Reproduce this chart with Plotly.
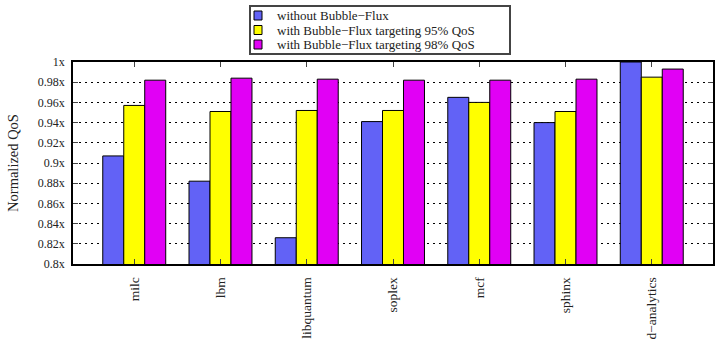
import plotly.graph_objects as go

categories = ["milc", "lbm", "libquantum", "soplex", "mcf", "sphinx", "d−analytics"]
without_bf = [0.907, 0.882, 0.826, 0.941, 0.965, 0.940, 1.0]
bf_95 = [0.957, 0.951, 0.952, 0.952, 0.960, 0.951, 0.985]
bf_98 = [0.982, 0.984, 0.983, 0.982, 0.982, 0.983, 0.993]
series_names = ["without Bubble−Flux", "with Bubble−Flux targeting 95% QoS", "with Bubble−Flux targeting 98% QoS"]
tick_vals = [0.8, 0.82, 0.84, 0.86, 0.88, 0.9, 0.92, 0.94, 0.96, 0.98, 1.0]
tick_text = ["0.8x", "0.82x", "0.84x", "0.86x", "0.88x", "0.9x", "0.92x", "0.94x", "0.96x", "0.98x", "1x"]

colors = ["#6262F6", "#FFFF00", "#E100F5"]
font = "Liberation Serif, Times New Roman, serif"
txt = "#222"

# plot area in pixels (for placing the hand-made legend box)
L, R, T, B = 73, 713, 62, 264
W, H = 720, 344


def px(x):
    return (x - L) / (R - L)


def py(y):
    return (B - y) / (B - T)


fig = go.Figure()
for name, vals, c in zip(series_names, [without_bf, bf_95, bf_98], colors):
    fig.add_trace(go.Bar(x=categories, y=vals, name=name, showlegend=False,
                         marker=dict(color=c, line=dict(color="black", width=1))))

# legend (box, swatches, labels)
shapes = [dict(type="rect", xref="paper", yref="paper",
               x0=px(250), x1=px(510), y0=py(6), y1=py(54),
               line=dict(color="#444", width=2), fillcolor="white", layer="above")]
annotations = []
line_y = [15.5, 30, 44.5]
for name, c, ly in zip(series_names, colors, line_y):
    shapes.append(dict(type="rect", xref="paper", yref="paper",
                       x0=px(254), x1=px(262), y0=py(ly - 4.5), y1=py(ly + 4.5),
                       line=dict(color="black", width=1), fillcolor=c, layer="above"))
    annotations.append(dict(text=name, xref="paper", yref="paper", x=px(275), y=py(ly),
                            xanchor="left", yanchor="middle", showarrow=False,
                            font=dict(family=font, size=13, color=txt)))

fig.update_layout(
    width=W, height=H,
    margin=dict(l=L, r=W - R, t=T, b=H - B, autoexpand=False),
    plot_bgcolor="white", paper_bgcolor="white",
    barmode="group", bargap=0.27, bargroupgap=0,
    font=dict(family=font, size=12, color=txt),
    shapes=shapes, annotations=annotations,
)
fig.update_xaxes(range=[-0.71, 6.71], tickangle=-90, ticks="inside", ticklen=5,
                 mirror="ticks", showline=True, linecolor="black", linewidth=1.5,
                 ticklabelstandoff=6,
                 tickfont=dict(family=font, size=13.5, color=txt))
fig.update_yaxes(range=[0.8, 1.0], tickvals=tick_vals, ticktext=tick_text,
                 ticks="inside", ticklen=5, mirror="ticks", showline=True,
                 linecolor="black", linewidth=1.5, ticklabelstandoff=4,
                 showgrid=True, gridcolor="black", gridwidth=1, griddash="2px,4px",
                 title=dict(text="Normalized QoS", font=dict(family=font, size=14.5, color=txt), standoff=16),
                 tickfont=dict(family=font, size=12, color=txt))

fig.write_html("out.html")
